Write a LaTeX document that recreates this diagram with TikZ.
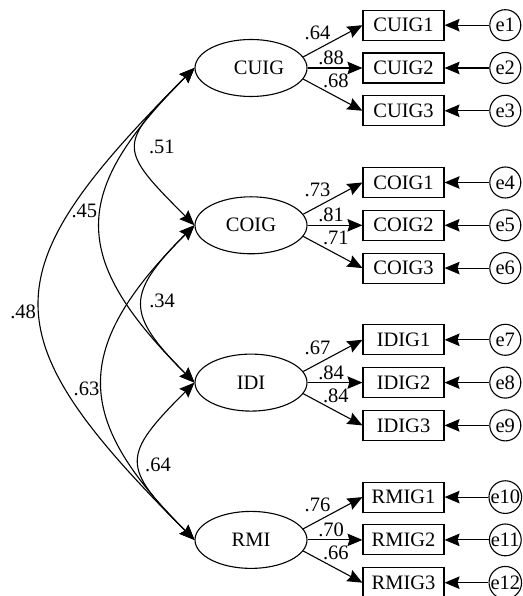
\documentclass[tikz,border=0pt]{standalone}
\usepackage{fontspec}
\setmainfont{Liberation Serif}
\usetikzlibrary{arrows.meta,shapes.geometric}
\newcommand{\semlbl}{\fontsize{20.5}{24}\selectfont}

\begin{document}
\begin{tikzpicture}[x=1pt,y=1pt,line width=1.1pt,
  >={Stealth[length=15pt,width=12.5pt,inset=2pt]},
  latent/.style={draw,ellipse,minimum width=112pt,minimum height=57pt,inner sep=0,font=\semlbl},
  indicator/.style={draw,rectangle,minimum width=81pt,minimum height=30pt,inner sep=0,font=\semlbl},
  errnode/.style={draw,circle,minimum size=31pt,inner sep=0,font=\semlbl},
  loadlbl/.style={inner sep=0,font=\semlbl},
  corrlbl/.style={inner sep=0,font=\semlbl}]
\useasboundingbox (0,0) rectangle (522,596);
% latent factors
\node[latent] (CUIG) at (251,528) {\hspace*{16pt}CUIG};
\node[latent] (COIG) at (251,370.7) {COIG};
\node[latent] (IDI) at (251,213.4) {IDI};
\node[latent] (RMI) at (251,56.1) {RMI};
% indicators
\node[indicator] (CUIG1) at (403.5,570.8) {CUIG1};
\node[indicator] (CUIG2) at (403.5,528) {CUIG2};
\node[indicator] (CUIG3) at (403.5,485.2) {CUIG3};
\node[indicator] (COIG1) at (403.5,413.5) {COIG1};
\node[indicator] (COIG2) at (403.5,370.7) {COIG2};
\node[indicator] (COIG3) at (403.5,327.9) {COIG3};
\node[indicator] (IDIG1) at (403.5,256.2) {IDIG1};
\node[indicator] (IDIG2) at (403.5,213.4) {IDIG2};
\node[indicator] (IDIG3) at (403.5,170.6) {IDIG3};
\node[indicator] (RMIG1) at (403.5,98.9) {RMIG1};
\node[indicator] (RMIG2) at (403.5,56.1) {RMIG2};
\node[indicator] (RMIG3) at (403.5,13.3) {RMIG3};
% error terms
\node[errnode] (e1) at (505.3,570.8) {e1};
\node[errnode] (e2) at (505.3,528) {e2};
\node[errnode] (e3) at (505.3,485.2) {e3};
\node[errnode] (e4) at (505.3,413.5) {e4};
\node[errnode] (e5) at (505.3,370.7) {e5};
\node[errnode] (e6) at (505.3,327.9) {e6};
\node[errnode] (e7) at (505.3,256.2) {e7};
\node[errnode] (e8) at (505.3,213.4) {e8};
\node[errnode] (e9) at (505.3,170.6) {e9};
\node[errnode] (e10) at (505.3,98.9) {e10};
\node[errnode] (e11) at (505.3,56.1) {e11};
\node[errnode] (e12) at (505.3,13.3) {e12};
% error paths
\draw[->] (e1) -- (CUIG1);
\draw[->] (e2) -- (CUIG2);
\draw[->] (e3) -- (CUIG3);
\draw[->] (e4) -- (COIG1);
\draw[->] (e5) -- (COIG2);
\draw[->] (e6) -- (COIG3);
\draw[->] (e7) -- (IDIG1);
\draw[->] (e8) -- (IDIG2);
\draw[->] (e9) -- (IDIG3);
\draw[->] (e10) -- (RMIG1);
\draw[->] (e11) -- (RMIG2);
\draw[->] (e12) -- (RMIG3);
% loadings
\draw[->] (CUIG.12) -- node[loadlbl,pos=.24,above=9pt] {.64} (CUIG1.west);
\draw[->] (CUIG.east) -- node[loadlbl,pos=.43,above=2.5pt] {.88} (CUIG2.west);
\draw[->] (CUIG.-12) -- node[loadlbl,pos=.55,above=8pt] {.68} (CUIG3.west);
\draw[->] (COIG.12) -- node[loadlbl,pos=.24,above=9pt] {.73} (COIG1.west);
\draw[->] (COIG.east) -- node[loadlbl,pos=.43,above=2.5pt] {.81} (COIG2.west);
\draw[->] (COIG.-12) -- node[loadlbl,pos=.55,above=8pt] {.71} (COIG3.west);
\draw[->] (IDI.12) -- node[loadlbl,pos=.24,above=9pt] {.67} (IDIG1.west);
\draw[->] (IDI.east) -- node[loadlbl,pos=.43,above=2.5pt] {.84} (IDIG2.west);
\draw[->] (IDI.-12) -- node[loadlbl,pos=.55,above=8pt] {.84} (IDIG3.west);
\draw[->] (RMI.12) -- node[loadlbl,pos=.24,above=9pt] {.76} (RMIG1.west);
\draw[->] (RMI.east) -- node[loadlbl,pos=.43,above=2.5pt] {.70} (RMIG2.west);
\draw[->] (RMI.-12) -- node[loadlbl,pos=.55,above=8pt] {.66} (RMIG3.west);
% correlations
\draw[<->] (CUIG.west) to[out=225,in=135,looseness=1.78] node[corrlbl,right=12pt] {.51} (COIG.west);
\draw[<->] (CUIG.west) to[out=225,in=135,looseness=1.44] node[corrlbl,pos=.45,left=4pt] {.45} (IDI.west);
\draw[<->] (CUIG.west) to[out=225,in=135,looseness=1.58] node[corrlbl,pos=.52,left=4pt] {.48} (RMI.west);
\draw[<->] (COIG.west) to[out=225,in=135,looseness=1.59] node[corrlbl,pos=.48,right=6pt] {.34} (IDI.west);
\draw[<->] (COIG.west) to[out=225,in=135,looseness=1.41] node[corrlbl,pos=.52,left=3pt] {.63} (RMI.west);
\draw[<->] (IDI.west) to[out=225,in=135,looseness=1.69] node[corrlbl,pos=.53,right=5pt] {.64} (RMI.west);
\end{tikzpicture}
\end{document}
